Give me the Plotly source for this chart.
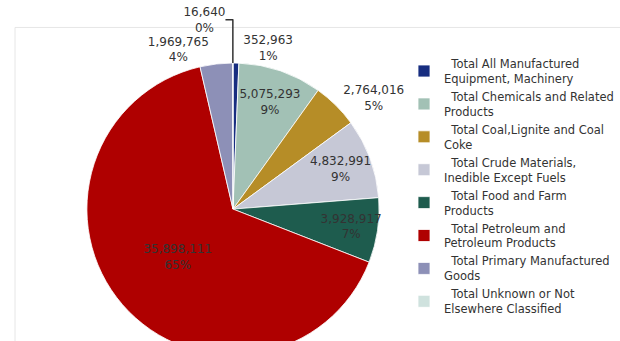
import plotly.graph_objects as go

NB = "\u00a0\u00a0"
categories = [
    NB + "Total All Manufactured<br>Equipment, Machinery",
    NB + "Total Chemicals and Related<br>Products",
    NB + "Total Coal,Lignite and Coal<br>Coke",
    NB + "Total Crude Materials,<br>Inedible Except Fuels",
    NB + "Total Food and Farm<br>Products",
    NB + "Total Petroleum and<br>Petroleum Products",
    NB + "Total Primary Manufactured<br>Goods",
    NB + "Total Unknown or Not<br>Elsewhere Classified",
]
values = [352963, 5075293, 2764016, 4832991, 3928917, 35898111, 1969765, 16640]
colors = ["#172d80", "#a2c1b5", "#b68d27", "#c6c8d6", "#1e5c4e", "#af0000", "#8d90b7", "#cfe2de"]
text_pos = ["outside", "inside", "outside", "inside", "inside", "inside", "outside", "outside"]

W, H = 620, 360
CX, CY, R = 233, 203, 152

fig = go.Figure(go.Pie(
    labels=categories,
    values=values,
    sort=False,
    direction="clockwise",
    rotation=0,
    marker=dict(colors=colors, line=dict(color="white", width=0.8)),
    texttemplate="%{value:,}<br>%{percent:.0%}",
    textposition=text_pos,
    insidetextorientation="horizontal",
    textfont=dict(family="DejaVu Sans, sans-serif", size=12, color="#333333"),
    domain=dict(x=[(CX - R) / W, (CX + R) / W], y=[1 - (CY + R) / H, 1 - (CY - R) / H]),
    hoverinfo="label+value+percent",
))

fig.update_layout(
    width=W, height=H,
    margin=dict(l=0, r=0, t=0, b=0),
    paper_bgcolor="white",
    plot_bgcolor="white",
    uniformtext=dict(minsize=12, mode="show"),
    showlegend=True,
    legend=dict(
        x=404 / W, y=1 - 37 / H, xanchor="left", yanchor="top",
        font=dict(family="DejaVu Sans, sans-serif", size=11.5, color="#333333"),
        bgcolor="rgba(0,0,0,0)",
        traceorder="normal",
    ),
    shapes=[dict(type="rect", xref="paper", yref="paper",
                 x0=15 / W, x1=1.02, y0=-0.02, y1=1 - 14 / H,
                 line=dict(color="#e6e6e6", width=1), layer="below")],
)

fig.write_html("out.html",
               post_script="document.body.style.overflow='hidden';document.documentElement.style.overflow='hidden';document.body.style.margin='0';")
